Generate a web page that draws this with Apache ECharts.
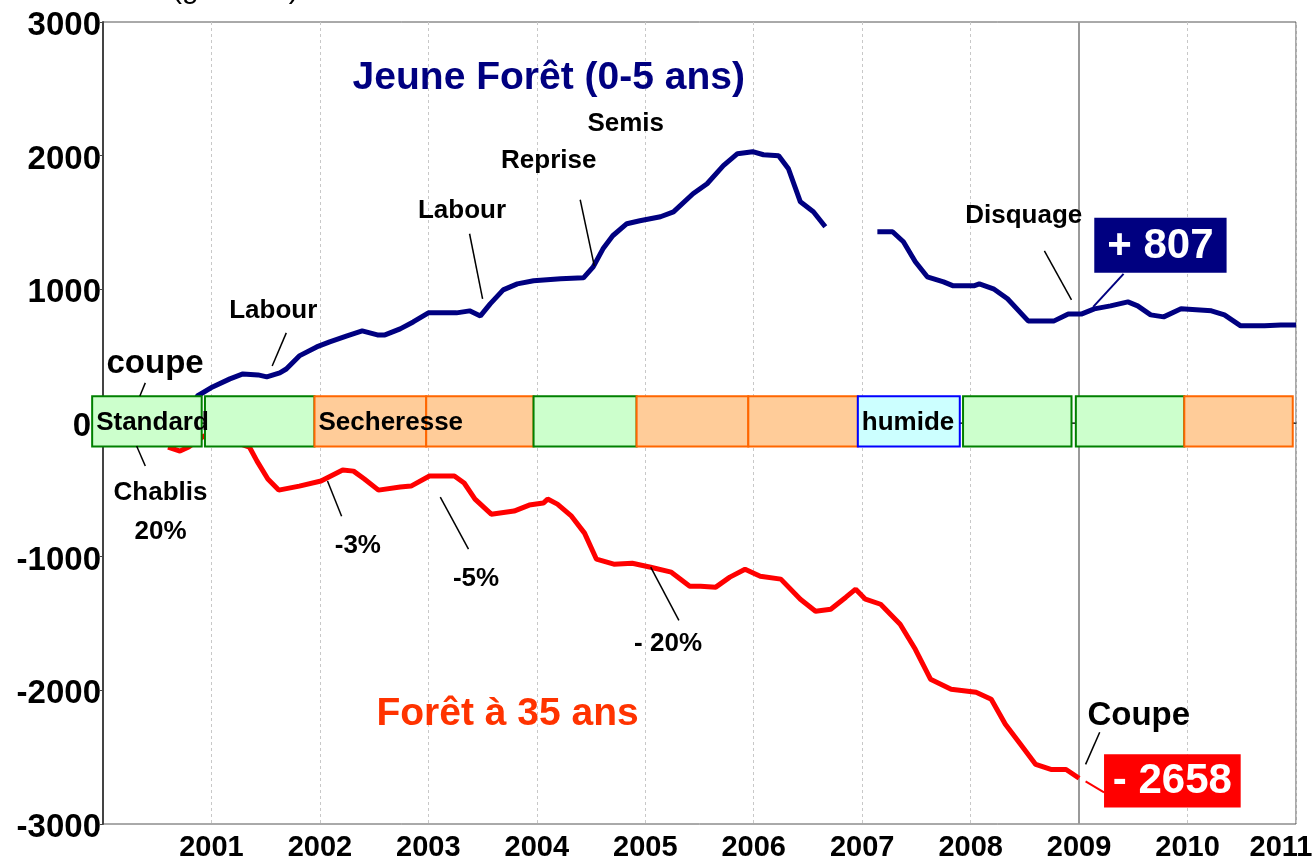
<!DOCTYPE html>
<html>
<head>
<meta charset="utf-8">
<script src="https://cdn.jsdelivr.net/npm/echarts@6/dist/echarts.min.js"></script>
<style>
html, body { margin: 0; padding: 0; background: #fff; }
#chart { width: 1314px; height: 859px; }
</style>
</head>
<body>
<div id="chart"></div>
<script>
// cumul des flux (g C m-2), jeune forêt
var blueYears = [2000.80, 2000.87, 2001.01, 2001.17, 2001.29, 2001.43, 2001.51, 2001.63, 2001.69, 2001.81,
  2001.97, 2002.09, 2002.25, 2002.39, 2002.53, 2002.60, 2002.74, 2002.86, 2003.00, 2003.26,
  2003.38, 2003.48, 2003.57, 2003.69, 2003.82, 2003.97, 2004.22, 2004.43, 2004.52, 2004.61,
  2004.70, 2004.83, 2004.95, 2005.14, 2005.26, 2005.44, 2005.57, 2005.72, 2005.85, 2005.99,
  2006.09, 2006.23, 2006.32, 2006.43, 2006.55, 2006.66, 2006.90, 2007.14, 2007.28, 2007.38,
  2007.49, 2007.60, 2007.75, 2007.84, 2008.03, 2008.08, 2008.21, 2008.34, 2008.53, 2008.77,
  2008.90, 2009.02, 2009.14, 2009.29, 2009.45, 2009.54, 2009.66, 2009.78, 2009.94, 2010.22,
  2010.34, 2010.49, 2010.71, 2010.86, 2011.00];
var blueValues = [0, 202, 270, 330, 367, 360, 345, 375, 404, 502,
  569, 607, 652, 689, 659, 659, 704, 756, 824, 824,
  839, 801, 891, 996, 1041, 1064, 1079, 1086, 1168, 1303,
  1401, 1491, 1513, 1543, 1580, 1715, 1790, 1925, 2015, 2030,
  2007, 2000, 1902, 1655, 1580, 1468, null, 1431, 1431, 1356,
  1206, 1094, 1056, 1026, 1026, 1041, 1004, 929, 764, 764,
  816, 815, 854, 876, 906, 876, 809, 794, 854, 839,
  809, 727, 727, 734, 734];

// forêt à 35 ans
var redYears = [2000.60, 2000.71, 2000.79, 2000.93, 2001.10, 2001.35, 2001.42, 2001.52, 2001.62, 2001.81,
  2002.01, 2002.21, 2002.31, 2002.41, 2002.54, 2002.74, 2002.84, 2003.01, 2003.24, 2003.33,
  2003.43, 2003.58, 2003.79, 2003.93, 2004.06, 2004.10, 2004.19, 2004.32, 2004.44, 2004.55,
  2004.71, 2004.88, 2005.05, 2005.24, 2005.41, 2005.51, 2005.65, 2005.78, 2005.92, 2006.06,
  2006.25, 2006.43, 2006.57, 2006.71, 2006.85, 2006.94, 2007.03, 2007.17, 2007.35, 2007.49,
  2007.63, 2007.82, 2008.05, 2008.19, 2008.32, 2008.46, 2008.60, 2008.74, 2008.88, 2009.00];
var redValues = [-180, -210, -180, -97, -110, -180, -285, -419, -502, -472,
  -434, -352, -360, -419, -502, -479, -472, -397, -397, -449,
  -569, -682, -659, -614, -599, -569, -607, -697, -824, -1019,
  -1056, -1049, -1079, -1116, -1221, -1221, -1228, -1153, -1094, -1146,
  -1168, -1318, -1408, -1393, -1303, -1243, -1318, -1356, -1505, -1693,
  -1917, -1992, -2015, -2067, -2254, -2404, -2554, -2592, -2592, -2658];

// années climatiques (bandeau autour de 0)
var boxStart = [1999.90, 2000.94, 2001.95, 2002.98, 2003.97, 2004.92, 2005.95, 2006.96, 2007.93, 2008.97, 2009.97];
var boxEnd   = [2000.91, 2001.95, 2002.98, 2003.97, 2004.92, 2005.95, 2006.96, 2007.90, 2008.93, 2009.97, 2010.97];
var boxType  = ['std', 'std', 'sec', 'sec', 'std', 'sec', 'sec', 'hum', 'std', 'std', 'sec'];
var boxLabels = ['Standard', '', 'Secheresse', '', '', '', '', 'humide', '', '', ''];
var bandTop = 200;
var bandBottom = -175;

var yearTicks = [2001, 2002, 2003, 2004, 2005, 2006, 2007, 2008, 2009, 2010, 2011];

// annotations
var noteTexts = ['Jeune Forêt (0-5 ans)', 'Semis', 'Reprise', 'Labour', 'Labour', 'coupe', 'Chablis', '20%',
  '-3%', '-5%', '- 20%', 'Forêt à 35 ans', 'Disquage', 'Coupe'];
var noteX = [2004.11, 2004.82, 2004.11, 2003.31, 2001.57, 2000.48, 2000.53, 2000.53,
  2002.35, 2003.44, 2005.21, 2003.73, 2008.49, 2009.55];
var noteY = [2580, 2240, 1962, 1588, 839, 442, -524, -816,
  -921, -1168, -1655, -2180, 1550, -2195];
var noteKind = ['blueTitle', 'small', 'small', 'small', 'small', 'big', 'small', 'small',
  'small', 'small', 'small', 'redTitle', 'small', 'big'];

var leadX1 = [2000.39, 2000.31, 2001.69, 2003.38, 2004.40, 2008.68, 2009.41, 2009.19, 2009.06, 2002.07, 2003.11, 2005.05];
var leadY1 = [300, -172, 674, 1416, 1670, 1288, 1116, -2314, -2681, -434, -554, -1079];
var leadX2 = [2000.34, 2000.39, 2001.56, 2003.50, 2004.53, 2008.93, 2009.13, 2009.06, 2009.23, 2002.20, 2003.37, 2005.31];
var leadY2 = [202, -322, 427, 929, 1176, 921, 869, -2554, -2764, -697, -944, -1476];
var leadKind = ['k', 'k', 'k', 'k', 'k', 'k', 'blue', 'k', 'red', 'k', 'k', 'k'];

var calloutTexts = ['+ 807', '- 2658'];
var calloutX0 = [2009.14, 2009.23];
var calloutX1 = [2010.36, 2010.49];
var calloutY0 = [1535, -2479];
var calloutY1 = [1124, -2876];
var calloutKind = ['blue', 'red'];

var FONT = '"Liberation Sans", Arial, sans-serif';
var NAVY = '#000080';
var RED = '#ff0000';

var boxStyles = {
  std: { fill: '#ccffcc', stroke: '#008000' },
  sec: { fill: '#ffcc99', stroke: '#ff6600' },
  hum: { fill: '#ccffff', stroke: '#0000ff' }
};
var noteStyles = {
  small: { size: 26, color: '#000' },
  big: { size: 33, color: '#000' },
  blueTitle: { size: 39, color: NAVY },
  redTitle: { size: 39, color: '#ff3300' }
};
var lineColors = { k: '#000', blue: NAVY, red: RED };

function zip(xs, ys) {
  return xs.map(function (x, i) { return [x, ys[i]]; });
}

var myChart = echarts.init(document.getElementById('chart'));

myChart.setOption({
  animation: false,
  backgroundColor: '#fff',
  grid: {
    left: 103, right: 18, top: 22, bottom: 35,
    outerBoundsMode: 'none', containLabel: false,
    show: true, borderColor: '#555', borderWidth: 1
  },
  graphic: [{
    type: 'text', left: 172, top: -25,
    style: { text: '(g C m-2)', fontSize: 30, fontFamily: FONT, fill: '#000' }
  }],
  xAxis: {
    type: 'value', min: 2000, max: 2011, interval: 1,
    axisLine: { show: true, lineStyle: { color: '#777', width: 2 } },
    axisTick: { show: false },
    axisLabel: {
      margin: 9, color: '#000', fontSize: 29, fontWeight: 'bold', fontFamily: FONT,
      formatter: function (v) {
        if (yearTicks.indexOf(v) < 0) return '';
        // la dernière année est décalée vers la gauche, comme sur l'original
        return v === 2011 ? '{last|' + v + '}' : String(v);
      },
      rich: {
        last: { fontSize: 29, fontWeight: 'bold', fontFamily: FONT, color: '#000', padding: [0, 30, 0, 0] }
      }
    },
    splitLine: { show: true, lineStyle: { color: '#c8c8c8', type: [3, 3], width: 1 } }
  },
  yAxis: {
    type: 'value', min: -3000, max: 3000, interval: 1000,
    axisLine: { show: true, lineStyle: { color: '#444', width: 2 } },
    axisTick: { show: true, length: 3, lineStyle: { color: '#444' } },
    axisLabel: {
      margin: 2,
      formatter: function (v) { return v === 0 ? '{z|0}' : '{v|' + v + '}'; },
      rich: {
        v: { fontSize: 33, fontWeight: 'bold', fontFamily: FONT, color: '#000', padding: [8, 0, 0, 0] },
        z: { fontSize: 33, fontWeight: 'bold', fontFamily: FONT, color: '#000', padding: [8, 10, 0, 0] }
      }
    },
    splitLine: { show: false }
  },
  series: [
    {
      name: 'Jeune Forêt', type: 'line', z: 2,
      data: zip(blueYears, blueValues),
      showSymbol: false, connectNulls: false,
      lineStyle: { color: NAVY, width: 5 },
      markLine: {
        silent: true, z: 1, symbol: ['none', 'none'], label: { show: false },
        data: [
          { yAxis: 0, lineStyle: { color: '#333', width: 1, type: 'solid' } },
          { xAxis: 2009, lineStyle: { color: '#9a9a9a', width: 2, type: 'solid' } }
        ]
      }
    },
    {
      name: 'Forêt à 35 ans', type: 'line', z: 2,
      data: zip(redYears, redValues),
      showSymbol: false,
      lineStyle: { color: RED, width: 5 }
    },
    {
      name: 'annees', type: 'custom', z: 3, clip: false, silent: true,
      data: zip(boxStart, boxEnd),
      encode: { x: 0, y: -1 },
      renderItem: function (params, api) {
        var i = params.dataIndex;
        var p0 = api.coord([boxStart[i], bandTop]);
        var p1 = api.coord([boxEnd[i], bandBottom]);
        var st = boxStyles[boxType[i]];
        return {
          type: 'rect',
          shape: { x: p0[0], y: p0[1], width: p1[0] - p0[0], height: p1[1] - p0[1] },
          style: { fill: st.fill, stroke: st.stroke, lineWidth: 2 }
        };
      }
    },
    {
      name: 'annees-texte', type: 'custom', z: 4, clip: false, silent: true,
      data: zip(boxStart, boxEnd),
      encode: { x: 0, y: -1 },
      renderItem: function (params, api) {
        var i = params.dataIndex;
        if (!boxLabels[i]) return null;
        var p = api.coord([boxStart[i], (bandTop + bandBottom) / 2]);
        return {
          type: 'text', x: p[0] + 4, y: p[1] + 1,
          style: {
            text: boxLabels[i], fill: '#000', fontSize: 26, fontWeight: 'bold', fontFamily: FONT,
            align: 'left', verticalAlign: 'middle'
          }
        };
      }
    },
    {
      name: 'traits', type: 'custom', z: 5, clip: false, silent: true,
      data: zip(leadX1, leadY1),
      renderItem: function (params, api) {
        var i = params.dataIndex;
        var a = api.coord([leadX1[i], leadY1[i]]);
        var b = api.coord([leadX2[i], leadY2[i]]);
        return {
          type: 'line',
          shape: { x1: a[0], y1: a[1], x2: b[0], y2: b[1] },
          style: { stroke: lineColors[leadKind[i]], lineWidth: leadKind[i] === 'k' ? 1.5 : 2 }
        };
      }
    },
    {
      name: 'notes', type: 'custom', z: 5, clip: false, silent: true,
      data: zip(noteX, noteY),
      renderItem: function (params, api) {
        var i = params.dataIndex;
        var p = api.coord([noteX[i], noteY[i]]);
        var st = noteStyles[noteKind[i]];
        return {
          type: 'text', x: p[0], y: p[1],
          style: {
            text: noteTexts[i], fill: st.color, fontSize: st.size, fontWeight: 'bold', fontFamily: FONT,
            align: 'center', verticalAlign: 'middle'
          }
        };
      }
    },
    {
      name: 'bilans', type: 'custom', z: 6, clip: false, silent: true,
      data: zip(calloutX0, calloutY0),
      renderItem: function (params, api) {
        var i = params.dataIndex;
        var a = api.coord([calloutX0[i], calloutY0[i]]);
        var b = api.coord([calloutX1[i], calloutY1[i]]);
        return {
          type: 'group',
          children: [{
            type: 'rect',
            shape: { x: a[0], y: a[1], width: b[0] - a[0], height: b[1] - a[1] },
            style: { fill: lineColors[calloutKind[i]] }
          }, {
            type: 'text', x: (a[0] + b[0]) / 2, y: (a[1] + b[1]) / 2 + 1,
            style: {
              text: calloutTexts[i], fill: '#fff', fontSize: 42, fontWeight: 'bold', fontFamily: FONT,
              align: 'center', verticalAlign: 'middle'
            }
          }]
        };
      }
    }
  ]
});
</script>
</body>
</html>
